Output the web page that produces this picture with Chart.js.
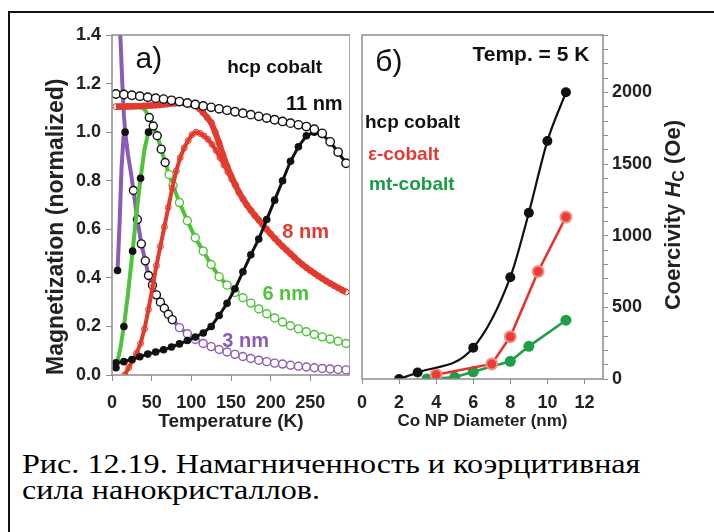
<!DOCTYPE html>
<html>
<head>
<meta charset="utf-8">
<script src="https://cdn.jsdelivr.net/npm/chart.js@4"></script>
<style>
  html, body { margin: 0; padding: 0; background: #fff; }
  body { width: 714px; height: 532px; position: relative; overflow: hidden; }
  .rule { position: absolute; background: #111; }
  canvas { position: absolute; top: 0; }
  #magChart { left: 0; }
  #hcChart { left: 349px; }
  #caption {
    position: absolute; left: 22px; top: 451px;
    font-family: 'Liberation Serif', 'Times New Roman', serif;
    font-size: 27px; line-height: 26px; color: #000;
    white-space: nowrap; transform: scaleX(1.19); transform-origin: 0 0;
  }
</style>
</head>
<body>
<div class="rule" style="left:8px; top:11px; width:706px; height:2px;"></div>
<div class="rule" style="left:8px; top:11px; width:2px; height:521px;"></div>
<canvas id="magChart" width="350" height="440"></canvas>
<canvas id="hcChart" width="365" height="440"></canvas>
<div id="caption">Рис. 12.19. Намагниченность и коэрцитивная<br>сила нанокристаллов.</div>

<script>
// а) намагниченность (норм.) от температуры, FC и ZFC кривые
const t11fc = [5, 15, 25, 35, 45, 55, 65, 75, 85, 95, 105, 115, 125, 135, 145, 155, 165, 175, 185, 195, 205, 215, 225, 235, 245, 255, 265, 275, 285, 295];
const m11fc = [1.157, 1.155, 1.152, 1.148, 1.144, 1.140, 1.136, 1.131, 1.126, 1.120, 1.114, 1.108, 1.102, 1.096, 1.090, 1.084, 1.078, 1.072, 1.065, 1.058, 1.051, 1.044, 1.037, 1.030, 1.023, 1.012, 0.995, 0.960, 0.918, 0.872];
const t11zfc = [5, 15, 25, 35, 45, 55, 65, 75, 85, 95, 105, 115, 125, 135, 145, 155, 165, 175, 185, 195, 205, 215, 225, 235, 245, 255, 265, 275, 285, 295];
const m11zfc = [0.050, 0.055, 0.064, 0.075, 0.086, 0.095, 0.104, 0.115, 0.128, 0.142, 0.156, 0.173, 0.200, 0.245, 0.295, 0.355, 0.425, 0.495, 0.560, 0.640, 0.720, 0.800, 0.880, 0.940, 0.985, 1.000, 0.990, 0.960, 0.918, 0.872];

const t8fc = [5, 10, 15, 20, 25, 30, 35, 40, 45, 50, 55, 60, 65, 70, 75, 80, 85, 90, 95, 100, 105, 110, 115, 120, 125, 130, 135, 140, 145, 150, 155, 160, 165, 170, 175, 180, 185, 190, 195, 200, 205, 210, 215, 220, 225, 230, 235, 240, 245, 250, 255, 260, 265, 270, 275, 280, 285, 290, 295];
const m8fc = [1.105, 1.105, 1.105, 1.106, 1.106, 1.107, 1.107, 1.108, 1.109, 1.110, 1.111, 1.112, 1.114, 1.116, 1.118, 1.119, 1.120, 1.120, 1.118, 1.114, 1.108, 1.097, 1.080, 1.060, 1.040, 1.000, 0.955, 0.905, 0.860, 0.820, 0.785, 0.752, 0.725, 0.700, 0.678, 0.657, 0.638, 0.619, 0.600, 0.581, 0.563, 0.546, 0.530, 0.514, 0.499, 0.484, 0.468, 0.455, 0.442, 0.430, 0.419, 0.408, 0.397, 0.387, 0.377, 0.368, 0.359, 0.350, 0.342];
const t8zfc = [16, 21, 26, 31, 36, 41, 46, 51, 56, 61, 66, 71, 76, 81, 86, 91, 96, 101, 106, 111, 116, 121, 126, 131, 136, 141, 146, 151, 156];
const m8zfc = [0.00, 0.03, 0.06, 0.09, 0.13, 0.19, 0.27, 0.36, 0.45, 0.53, 0.61, 0.69, 0.77, 0.84, 0.895, 0.935, 0.965, 0.99, 1.00, 0.995, 0.985, 0.97, 0.95, 0.925, 0.895, 0.865, 0.835, 0.805, 0.78];

const t6fc = [5, 15, 25, 35, 42, 47, 52, 57, 62, 67, 72, 77, 85, 95, 105, 115, 125, 135, 145, 155, 165, 175, 185, 195, 205, 215, 225, 235, 245, 255, 265, 275, 285, 295];
const m6fc = [1.11, 1.11, 1.11, 1.11, 1.09, 1.06, 1.025, 0.985, 0.93, 0.875, 0.825, 0.78, 0.71, 0.635, 0.565, 0.51, 0.455, 0.405, 0.37, 0.34, 0.318, 0.296, 0.272, 0.252, 0.235, 0.218, 0.203, 0.19, 0.178, 0.167, 0.157, 0.148, 0.139, 0.13];
const t6zfc = [5, 10, 15, 20, 26, 31, 36, 41, 46, 51];
const m6zfc = [0.03, 0.10, 0.20, 0.33, 0.51, 0.67, 0.81, 0.93, 1.00, 0.995];

const t3fc = [9, 11, 13, 15, 17, 20, 24, 27, 32, 37, 42, 46, 51, 56, 61, 66, 71, 76, 85, 95, 105, 115, 125, 135, 145, 155, 165, 175, 185, 195, 205, 215, 225, 235, 245, 255, 265, 275, 285, 295];
const m3fc = [1.5, 1.36, 1.2, 1.07, 0.99, 0.91, 0.83, 0.76, 0.64, 0.54, 0.47, 0.41, 0.37, 0.33, 0.30, 0.275, 0.25, 0.228, 0.195, 0.17, 0.146, 0.13, 0.117, 0.105, 0.095, 0.085, 0.076, 0.068, 0.061, 0.055, 0.049, 0.045, 0.040, 0.036, 0.033, 0.030, 0.027, 0.025, 0.023, 0.021];
const t3zfc = [7, 9.5, 12, 14.5, 16.5];
const m3zfc = [0.43, 0.62, 0.85, 0.98, 1.00];

// б) коэрцитивная сила при 5 K от диаметра частиц
const dHcp = [2, 3, 6, 8, 9, 10, 11];
const hHcp = [0, 45, 218, 710, 1160, 1660, 2000];
const dEps = [4, 7, 8, 9.5, 11];
const hEps = [30, 105, 295, 750, 1130];
const dMt = [3.5, 5, 6, 8, 9, 11];
const hMt = [0, 12, 50, 123, 228, 410];

// деления осей
const tempTicks = [0, 50, 100, 150, 200, 250];
const magTicks = [0, 0.2, 0.4, 0.6, 0.8, 1.0, 1.2, 1.4];
const diamTicks = [0, 2, 4, 6, 8, 10, 12];
const hcTicks = [0, 100, 200, 300, 400, 500, 600, 700, 800, 900, 1000, 1100, 1200, 1300, 1400, 1500, 1600, 1700, 1800, 1900, 2000, 2100, 2200, 2300, 2400];

const sans = "'Liberation Sans', Arial, sans-serif";
const black = '#111111';
const red = '#e23b2e';
const green = '#4ec23a';
const purple = '#8b5cb5';

const pts = (xs, ys) => xs.map((x, i) => ({ x: x, y: ys[i] }));
const setTicks = list => scale => { scale.ticks = list.map(v => ({ value: v })); };

// подписи внутри графика + рамка области построения
function notesPlugin(notes, extra) {
    return {
        id: 'notes',
        afterDatasetsDraw(chart) {
            const { ctx, chartArea: a, scales: { x, y } } = chart;
            ctx.save();
            ctx.strokeStyle = '#8c8c8c';
            ctx.lineWidth = 1.5;
            ctx.strokeRect(a.left, a.top, a.width, a.height);
            ctx.textBaseline = 'middle';
            notes.forEach(n => {
                ctx.font = n.font;
                ctx.fillStyle = n.color || black;
                ctx.textAlign = n.align || 'center';
                ctx.fillText(n.text, x.getPixelForValue(n.x), y.getPixelForValue(n.y));
            });
            if (extra) extra(ctx, chart);
            ctx.restore();
        }
    };
}

const tickFont = { family: sans, size: 18, weight: 'bold' };

// Графики a)
new Chart(document.getElementById('magChart'), {
    type: 'line',
    data: {
        datasets: [
            {
                label: '11 nm FC', data: pts(t11fc, m11fc), showLine: false,
                pointRadius: 4.2, pointBorderWidth: 1.4, pointBorderColor: black, pointBackgroundColor: '#fff'
            },
            {
                label: '11 nm ZFC', data: pts(t11zfc, m11zfc), borderColor: black, borderWidth: 3,
                pointRadius: 3.8, pointBackgroundColor: black, pointBorderColor: black, pointBorderWidth: 0
            },
            {
                label: '8 nm FC', data: pts(t8fc, m8fc), borderColor: red, borderWidth: 6,
                pointRadius: 3, pointBorderWidth: 1, pointBorderColor: red, pointBackgroundColor: 'rgba(255,255,255,0)'
            },
            {
                label: '8 nm ZFC', data: pts(t8zfc, m8zfc), borderColor: red, borderWidth: 4,
                pointRadius: 3, pointBorderWidth: 1, pointBorderColor: red, pointBackgroundColor: 'rgba(255,255,255,0)'
            },
            {
                label: '6 nm ZFC', data: pts(t6zfc, m6zfc), borderColor: green, borderWidth: 4,
                pointRadius: [3.8, 0, 3.8, 0, 3.8, 0, 3.8, 0, 3.8, 0], pointBackgroundColor: black, pointBorderWidth: 0
            },
            {
                label: '6 nm FC', data: pts(t6fc, m6fc), borderColor: green, borderWidth: 4,
                segment: { borderWidth: c => c.p0.parsed.x >= 145 ? 1.5 : 4 },
                pointRadius: c => c.raw.x >= 47 ? 4 : 0,
                pointBorderWidth: 1.4,
                pointBorderColor: c => c.raw.x < 70 ? black : green,
                pointBackgroundColor: '#fff'
            },
            {
                label: '3 nm ZFC', data: pts(t3zfc, m3zfc), borderColor: purple, borderWidth: 4,
                pointRadius: [3.8, 0, 0, 0, 3.8], pointBackgroundColor: black, pointBorderWidth: 0
            },
            {
                label: '3 nm FC', data: pts(t3fc, m3fc), borderColor: purple, borderWidth: 4,
                segment: { borderWidth: c => c.p0.parsed.x >= 95 ? 1.2 : 4 },
                pointRadius: c => c.raw.x >= 27 ? 4 : 0,
                pointBorderWidth: 1.4,
                pointBorderColor: c => c.raw.x < 80 ? black : purple,
                pointBackgroundColor: '#fff'
            }
        ]
    },
    options: {
        responsive: false,
        animation: false,
        layout: { autoPadding: false, padding: { left: 0, top: 35, right: 0, bottom: 0 } },
        plugins: { legend: { display: false }, tooltip: { enabled: false } },
        scales: {
            x: {
                type: 'linear', min: 0, max: 300,
                afterBuildTicks: setTicks(tempTicks),
                afterFit: s => { s.height = 65; },
                grid: { drawOnChartArea: false, tickLength: 6, color: '#8c8c8c' },
                border: { display: false },
                ticks: {
                    autoSkip: false, maxRotation: 0, padding: 1, color: '#222',
                    font: { family: sans, size: 18, weight: 'bold', lineHeight: 2.31 }
                },
                title: {
                    display: true, text: 'Temperature (K)', color: '#222',
                    font: { family: sans, size: 19, weight: 'bold' }, padding: { top: 0, bottom: 7 }
                }
            },
            y: {
                type: 'linear', min: 0, max: 1.4,
                afterBuildTicks: setTicks(magTicks),
                afterFit: s => { s.width = 112; },
                grid: { drawOnChartArea: false, tickLength: 6, color: '#8c8c8c' },
                border: { display: false },
                ticks: {
                    autoSkip: false, padding: 5, color: '#222', font: tickFont,
                    callback: v => v.toFixed(1)
                },
                title: {
                    display: true, text: 'Magnetization (normalized)', color: '#222', align: 'start',
                    font: { family: sans, size: 23, weight: 'bold' }, padding: { top: 43, bottom: 0 }
                }
            }
        }
    },
    plugins: [notesPlugin([
        { text: 'a)', x: 46.5, y: 1.30, font: '30px ' + sans },
        { text: 'hcp cobalt', x: 205, y: 1.264, font: 'bold 19px ' + sans },
        { text: '11 nm', x: 255, y: 1.113, font: 'bold 20px ' + sans },
        { text: '8 nm', x: 244, y: 0.586, font: 'bold 20px ' + sans, color: red },
        { text: '6 nm', x: 219, y: 0.33, font: 'bold 20px ' + sans, color: green },
        { text: '3 nm', x: 168.5, y: 0.138, font: 'bold 20px ' + sans, color: purple }
    ])]
});

// Графики б)
const hcRed = '#e8312c';
const hcGreen = '#1f9e4a';

// подпись правой оси: Coercivity H_C (Oe), курсив и нижний индекс
function hcAxisTitle(ctx) {
    const parts = [
        { t: 'Coercivity ', f: 'bold 22px ' + sans, dy: 0 },
        { t: 'H', f: 'italic bold 22px ' + sans, dy: 0 },
        { t: 'C', f: 'bold 16px ' + sans, dy: 6 },
        { t: ' (Oe)', f: 'bold 22px ' + sans, dy: 0 }
    ];
    let w = 0;
    parts.forEach(p => { ctx.font = p.f; w += ctx.measureText(p.t).width; });
    ctx.translate(674 - 349, 215 + w / 2);
    ctx.rotate(-Math.PI / 2);
    ctx.fillStyle = '#222';
    ctx.textAlign = 'left';
    ctx.textBaseline = 'middle';
    let pos = 0;
    parts.forEach(p => {
        ctx.font = p.f;
        ctx.fillText(p.t, pos, p.dy);
        pos += ctx.measureText(p.t).width;
    });
}

new Chart(document.getElementById('hcChart'), {
    type: 'line',
    data: {
        datasets: [
            {
                label: 'hcp cobalt', data: pts(dHcp, hHcp), borderColor: black, borderWidth: 2.2,
                cubicInterpolationMode: 'monotone',
                pointRadius: 5, pointBackgroundColor: black, pointBorderColor: black, pointBorderWidth: 0
            },
            {
                label: 'ε-cobalt', data: pts(dEps, hEps), borderColor: hcRed, borderWidth: 2.6,
                pointRadius: 5.5, pointBackgroundColor: '#ea3d33', pointBorderColor: '#f29088', pointBorderWidth: 2
            },
            {
                label: 'mt-cobalt', data: pts(dMt, hMt), borderColor: hcGreen, borderWidth: 2.6,
                pointRadius: 5.5, pointBackgroundColor: hcGreen, pointBorderColor: hcGreen, pointBorderWidth: 0
            }
        ]
    },
    options: {
        responsive: false,
        animation: false,
        layout: { padding: { left: 13, top: 35, right: 0, bottom: 0 } },
        plugins: { legend: { display: false }, tooltip: { enabled: false } },
        scales: {
            x: {
                type: 'linear', min: 0, max: 13,
                afterBuildTicks: setTicks(diamTicks),
                afterFit: s => { s.height = 61; },
                grid: { drawOnChartArea: false, tickLength: 5, color: '#8c8c8c' },
                border: { display: false },
                ticks: { autoSkip: false, maxRotation: 0, padding: 8, color: '#222', font: tickFont },
                title: {
                    display: true, text: 'Co NP Diameter (nm)', color: '#222',
                    font: { family: sans, size: 17, weight: 'bold' }, padding: { top: 0, bottom: 8 }
                }
            },
            y: {
                type: 'linear', position: 'right', min: 0, max: 2400,
                afterBuildTicks: setTicks(hcTicks),
                afterFit: s => { s.width = 111; },
                grid: { drawOnChartArea: false, tickLength: 5, color: '#8c8c8c' },
                border: { display: false },
                ticks: {
                    autoSkip: false, padding: 4, color: '#222', font: tickFont,
                    callback: v => v % 500 === 0 ? v : ''
                }
            }
        }
    },
    plugins: [notesPlugin([
        { text: 'б)', x: 1.45, y: 2206, font: '30px ' + sans },
        { text: 'Temp. = 5 K', x: 9.11, y: 2262, font: 'bold 21px ' + sans },
        { text: 'hcp cobalt', x: 0.16, y: 1790, font: 'bold 19px ' + sans, align: 'left' },
        { text: 'ε-cobalt', x: 0.32, y: 1563, font: 'bold 19px ' + sans, color: '#e23a35', align: 'left' },
        { text: 'mt-cobalt', x: 0.38, y: 1354, font: 'bold 19px ' + sans, color: '#1a9b45', align: 'left' }
    ], hcAxisTitle)]
});
</script>
</body>
</html>
